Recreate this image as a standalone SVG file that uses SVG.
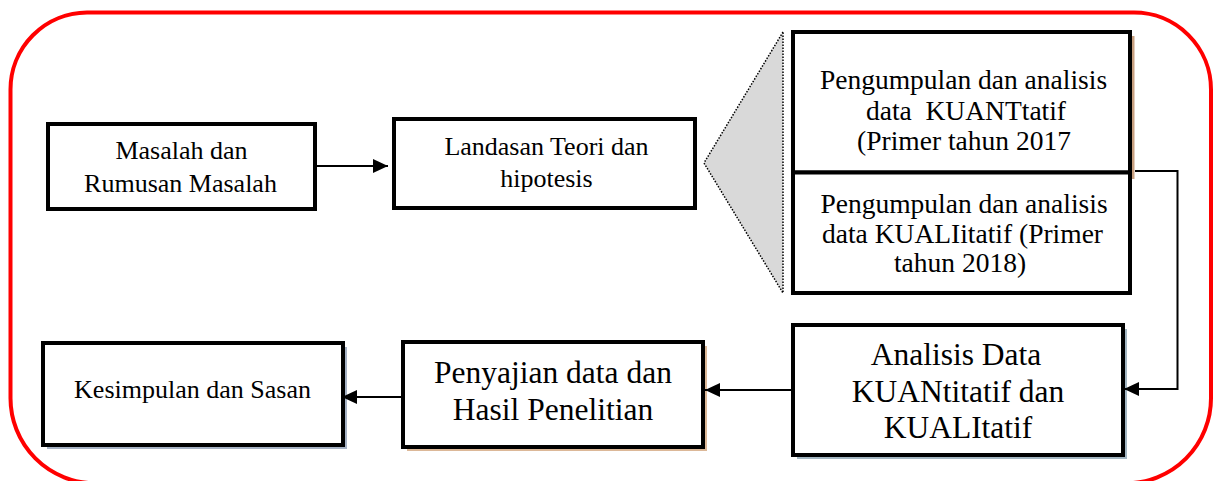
<svg xmlns="http://www.w3.org/2000/svg" width="1213" height="481" viewBox="0 0 1213 481">
<style>
.box{fill:#ffffff;stroke:#000000;stroke-width:4}
.t{font-family:"Liberation Serif","Times New Roman",serif;fill:#000000;text-anchor:middle}
.s{font-size:26px}
.m{font-size:27.5px}
.l{font-size:31.5px}
.c{fill:none;stroke:#000000;stroke-width:2}
</style>
<defs>
<marker id="ah" markerUnits="userSpaceOnUse" markerWidth="16" markerHeight="14" refX="15" refY="7" orient="auto">
<polygon points="0,0 15,7 0,14" fill="#000000"/>
</marker>
</defs>
<rect width="1213" height="481" fill="#ffffff"/>
<path d="M87,12.5 H1134 A77,77 0 0 1 1211,89.5 V398.3 A85,85 0 0 1 1126,483.3 H95.5 A85,85 0 0 1 10.5,398.3 V89.5 A77,77 0 0 1 87,12.5 Z" fill="none" stroke="#ff0000" stroke-width="4"/>
<g id="callout">
<polygon points="783,32 704,163 783,293" fill="#d9d9d9" stroke="#000000" stroke-width="1.5" stroke-dasharray="1.5 1.5"/>
</g>
<g id="masalah">
<rect class="box" x="48" y="124" width="267" height="85"/>
<text class="t s" x="181.5" y="159">Masalah dan</text>
<text class="t s" x="180.5" y="192">Rumusan Masalah</text>
</g>
<g id="landasan">
<rect class="box" x="394" y="119" width="301" height="89"/>
<text class="t s" x="546.5" y="155">Landasan Teori dan</text>
<text class="t s" x="546.5" y="187">hipotesis</text>
</g>
<g id="kuantitatif">
<line x1="1133" y1="36" x2="1133" y2="179" stroke="#c8a080" stroke-width="3"/>
<rect class="box" x="793" y="32" width="337" height="140.5"/>
<text class="t m" x="963.5" y="89">Pengumpulan dan analisis</text>
<text class="t m" x="966" y="120" xml:space="preserve">data  KUANTtatif</text>
<text class="t m" x="964" y="150">(Primer tahun 2017</text>
</g>
<g id="kualitatif">
<rect class="box" x="793" y="172.5" width="337" height="120.5"/>
<text class="t m" x="964" y="213">Pengumpulan dan analisis</text>
<text class="t m" x="962.5" y="243">data KUALIitatif (Primer</text>
<text class="t m" x="960" y="272">tahun 2018)</text>
</g>
<g id="analisis">
<rect x="797" y="329" width="330" height="130" fill="#a3b6c2"/>
<rect class="box" x="793" y="325" width="330" height="130"/>
<text class="t l" x="956" y="365">Analisis Data</text>
<text class="t l" x="958" y="402">KUANtitatif dan</text>
<text class="t l" x="958" y="438">KUALItatif</text>
</g>
<g id="penyajian">
<rect x="407" y="346" width="300" height="105" fill="#dcb898"/>
<rect class="box" x="403" y="342" width="300" height="105"/>
<text class="t l" x="553" y="383">Penyajian data dan</text>
<text class="t l" x="553" y="420">Hasil Penelitian</text>
</g>
<g id="kesimpulan">
<rect x="47" y="347" width="300" height="102" fill="#a6b2c4"/>
<rect class="box" x="43" y="343" width="300" height="102"/>
<text class="t s" x="192.5" y="398">Kesimpulan dan Sasan</text>
</g>
<g id="connectors">
<line class="c" x1="317" y1="166" x2="388" y2="166" marker-end="url(#ah)"/>
<polyline class="c" points="1135,171 1177.5,171 1177.5,389 1124,389" stroke-width="1.6" marker-end="url(#ah)"/>
<line class="c" x1="793" y1="390" x2="705" y2="390" marker-end="url(#ah)"/>
<line class="c" x1="403" y1="397" x2="342" y2="397" marker-end="url(#ah)"/>
</g>
</svg>
